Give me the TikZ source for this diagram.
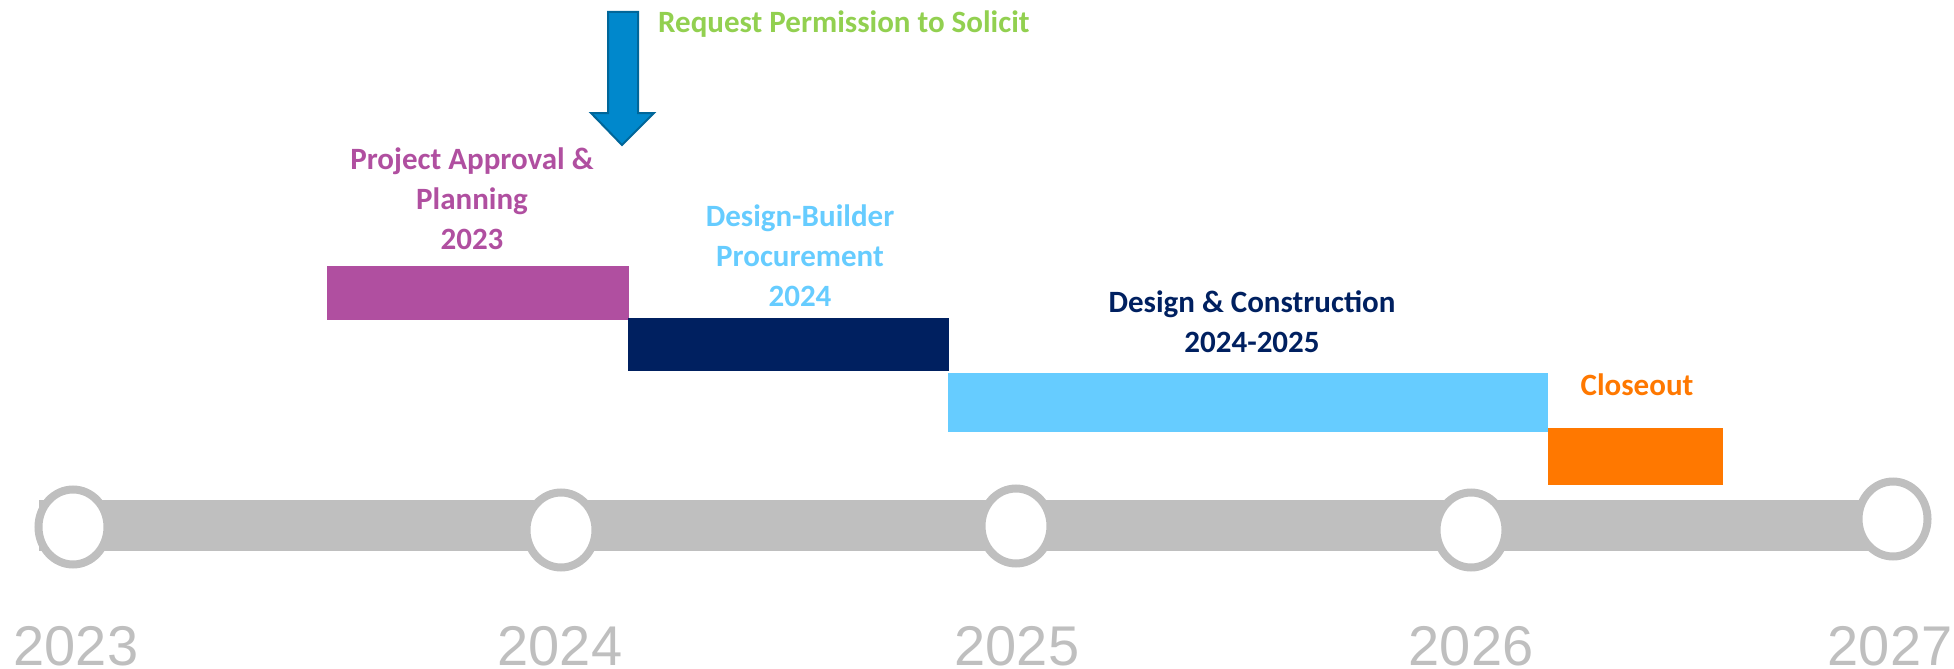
\documentclass[tikz,border=0pt]{standalone}
\usepackage{fontspec}
\setmainfont{Carlito}
\newfontfamily\yearfont{Liberation Sans}
\definecolor{barGray}{HTML}{BFBFBF}
\definecolor{magentaC}{HTML}{B04FA0}
\definecolor{navyC}{HTML}{002060}
\definecolor{lightC}{HTML}{66CCFF}
\definecolor{orangeC}{HTML}{FF7800}
\definecolor{greenC}{HTML}{92D050}
\definecolor{arrowFill}{HTML}{0088CC}
\definecolor{arrowEdge}{HTML}{006699}
\usetikzlibrary{shapes.geometric}
\tikzset{
  ring/.style={draw=barGray, line width=8pt, fill=white, ellipse, minimum width=69pt, minimum height=75pt, inner sep=0pt},
  yearlbl/.style={font=\yearfont\fontsize{56}{56}\selectfont, text=barGray, anchor=base, inner sep=0pt, text depth=0pt},
  phase/.style={font=\bfseries\fontsize{31}{40}\selectfont, align=center, anchor=base, inner sep=0pt},
}
\begin{document}
\begin{tikzpicture}[x=1pt,y=-1pt]
\useasboundingbox (0,0) rectangle (1954,669);
% timeline bar
\fill[barGray] (39,500) rectangle (1870,551);
% rings
\node[ring] (c23) at (73,527) {};
\node[ring] (c24) at (561,530) {};
\node[ring] (c25) at (1016,526) {};
\node[ring] (c26) at (1471,530) {};
\node[ring] (c27) at (1893,519) {};
% year labels
\node[yearlbl] (y23) at (76,665) {2023};
\node[yearlbl] (y24) at (560,665) {2024};
\node[yearlbl] (y25) at (1017,665) {2025};
\node[yearlbl] (y26) at (1471,665) {2026};
\node[yearlbl] (y27) at (1890,665) {2027};
% phase bars
\fill[magentaC] (327,266) rectangle (629,320);
\fill[navyC] (628,318) rectangle (949,371);
\fill[lightC] (948,373) rectangle (1548,432);
\fill[orangeC] (1548,428) rectangle (1723,485);
% phase labels (base = last line)
\node[phase, text=magentaC] (t1) at (472,249) {Project Approval \&\\Planning\\2023};
\node[phase, text=lightC] (t2) at (800,306) {Design-Builder\\Procurement\\2024};
\node[phase, text=navyC] (t3) at (1252,352) {Design \& Construction\\2024-2025};
\node[phase, text=orangeC] (t4) at (1637,395) {Closeout};
% arrow
\draw[arrowEdge, fill=arrowFill, line width=2pt, line join=miter]
  (608,12) -- (638,12) -- (638,113) -- (654,113) -- (622,145) -- (591,113) -- (608,113) -- cycle;
\node[phase, text=greenC, anchor=base west] (req) at (658,33) {Request Permission to Solicit};
\end{tikzpicture}
\end{document}
